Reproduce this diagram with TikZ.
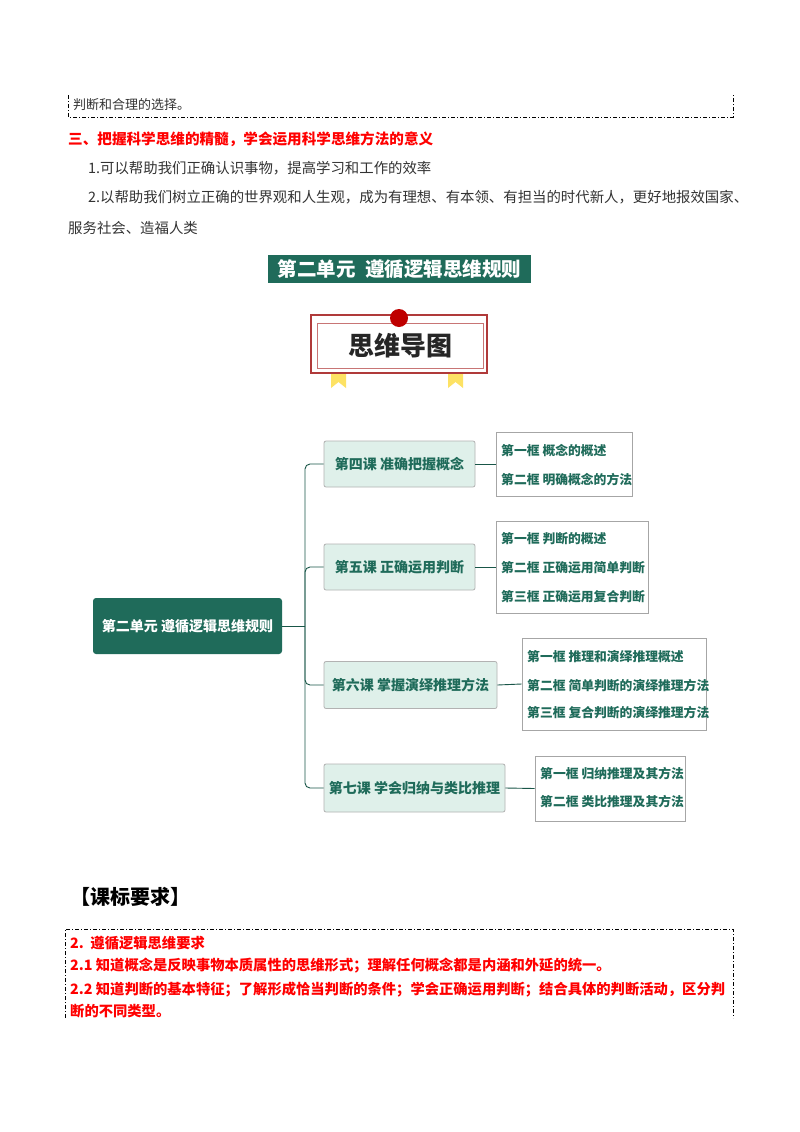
\documentclass[tikz,border=0pt]{standalone}
\usepackage{fontspec}
\setmainfont{Noto Sans CJK SC}
\begin{document}
\begin{tikzpicture}[x=1pt,y=-1pt,
  dd/.style={line width=0.8pt,dash pattern=on 4pt off 2pt on 1pt off 2pt},
  body/.style={anchor=west,inner sep=0pt,font=\fontsize{14.4}{16}\selectfont,text=black!80},
  red/.style={anchor=west,inner sep=0pt,font=\bfseries\fontsize{14.3}{16}\selectfont,text=red},
  lesson/.style={draw=black!30,fill=lfill,rounded corners=2pt,line width=0.8pt,text=mmg,font=\bfseries\fontsize{14}{16}\selectfont,inner sep=0pt},
  subbox/.style={draw=black!35,fill=white,line width=0.8pt,inner sep=0pt},
  subtxt/.style={anchor=west,inner sep=0pt,text=mmg,font=\bfseries\fontsize{12.8}{14}\selectfont},
  conn/.style={draw=mmg!80!black,line width=0.9pt,rounded corners=5pt}]
\definecolor{mmg}{HTML}{1F6B5A}
\definecolor{lfill}{HTML}{DFF0EA}
\definecolor{dred}{HTML}{B03A3A}
\useasboundingbox[fill=white] (0,0) rectangle (800,1132);
% top dashed box
\draw[dd] (68,95) -- (68,117) -- (733,117) -- (733,95);
\node[body,font=\fontsize{13}{15}\selectfont] (t0) at (73,105) {判断和合理的选择。};
\node[red,font=\bfseries\fontsize{14.6}{16}\selectfont] (h3) at (68,139) {三、把握科学思维的精髓，学会运用科学思维方法的意义};
\node[body] (p1) at (88,168) {1.可以帮助我们正确认识事物，提高学习和工作的效率};
\node[body] (p2) at (88,197) {2.以帮助我们树立正确的世界观和人生观，成为有理想、有本领、有担当的时代新人，更好地报效国家、};
\node[body] (p3) at (68,228) {服务社会、造福人类};
% title
\node[fill=mmg,text=white,font=\bfseries\fontsize{19.5}{21}\selectfont,minimum width=263pt,minimum height=28pt,inner sep=0pt] (title) at (399.5,269) {第二单元\enspace 遵循逻辑思维规则};
% mind map badge
\fill[yellow!70!orange!60] (331,365) -- (346,365) -- (346,388) -- (338.5,382) -- (331,388) -- cycle;
\fill[yellow!70!orange!60] (448,365) -- (463,365) -- (463,388) -- (455.5,382) -- (448,388) -- cycle;
\node[draw=dred,line width=1.2pt,fill=white,minimum width=176pt,minimum height=58pt,inner sep=0pt] (badge) at (399,344) {};
\node[draw=dred!70,line width=0.8pt,minimum width=166pt,minimum height=45pt,inner sep=0pt,font=\bfseries\fontsize{26}{28}\selectfont,text=black!85] (badgein) at (400,345.5) {思维导图};
\fill[red!75!black] (399,318) circle (9);
% root
\node[fill=mmg,rounded corners=3pt,text=white,font=\bfseries\fontsize{14}{16}\selectfont,minimum width=189pt,minimum height=56pt,inner sep=0pt] (root) at (187.5,626) {第二单元\ 遵循逻辑思维规则};
% lessons
\node[lesson,minimum width=151pt,minimum height=46pt] (l4) at (399.5,464) {第四课\ 准确把握概念\hspace{6pt}};
\node[lesson,minimum width=151pt,minimum height=46pt] (l5) at (399.5,567) {第五课\ 正确运用判断\hspace{6pt}};
\node[lesson,minimum width=173pt,minimum height=47pt] (l6) at (410.5,685) {第六课\ 掌握演绎推理方法\hspace{6pt}};
\node[lesson,minimum width=181pt,minimum height=48pt] (l7) at (414.5,788) {第七课\ 学会归纳与类比推理\hspace{4pt}};
% sub boxes
\node[subbox,minimum width=136pt,minimum height=64pt] (s4) at (564,464) {};
\node[subbox,minimum width=152pt,minimum height=92pt] (s5) at (572,567) {};
\node[subbox,minimum width=184pt,minimum height=92pt] (s6) at (614,684) {};
\node[subbox,minimum width=150pt,minimum height=65pt] (s7) at (610,788.5) {};
\node[subtxt] (a1) at (501,451) {第一框\ 概念的概述};
\node[subtxt] (a2) at (501,480) {第二框\ 明确概念的方法};
\node[subtxt] (b1) at (501,539) {第一框\ 判断的概述};
\node[subtxt] (b2) at (501,568) {第二框\ 正确运用简单判断};
\node[subtxt] (b3) at (501,597) {第三框\ 正确运用复合判断};
\node[subtxt] (c1) at (527,657) {第一框\ 推理和演绎推理概述};
\node[subtxt] (c2) at (527,686) {第二框\ 简单判断的演绎推理方法};
\node[subtxt] (c3) at (527,713) {第三框\ 复合判断的演绎推理方法};
\node[subtxt] (d1) at (540,774) {第一框\ 归纳推理及其方法};
\node[subtxt] (d2) at (540,802) {第二框\ 类比推理及其方法};
% connectors
\coordinate (j) at (305,626);
\draw[conn] (root.east) -- (j);
\draw[conn] (j) |- (l4.west);
\draw[conn] (j) |- (l5.west);
\draw[conn] (j) |- (l6.west);
\draw[conn] (j) |- (l7.west);
\draw[conn] (l4.east) -- (s4.west);
\draw[conn] (l5.east) -- (s5.west);
\draw[conn] (l6.east) -- (s6.west);
\draw[conn] (l7.east) -- (s7.west);
% curriculum
\node[anchor=west,inner sep=0pt,font=\bfseries\fontsize{20}{22}\selectfont] (kb) at (70,897) {【课标要求】};
\draw[dd] (65,1018) -- (65,929) -- (733,929) -- (733,1018);
\node[red] (r1) at (70,943) {2.\ \ 遵循逻辑思维要求};
\node[red] (r2) at (70,966) {2.1\ 知道概念是反映事物本质属性的思维形式；理解任何概念都是内涵和外延的统一。};
\node[red] (r3) at (70,990) {2.2\ 知道判断的基本特征；了解形成恰当判断的条件；学会正确运用判断；结合具体的判断活动，区分判};
\node[red] (r4) at (70,1011) {断的不同类型。};
\end{tikzpicture}
\end{document}
